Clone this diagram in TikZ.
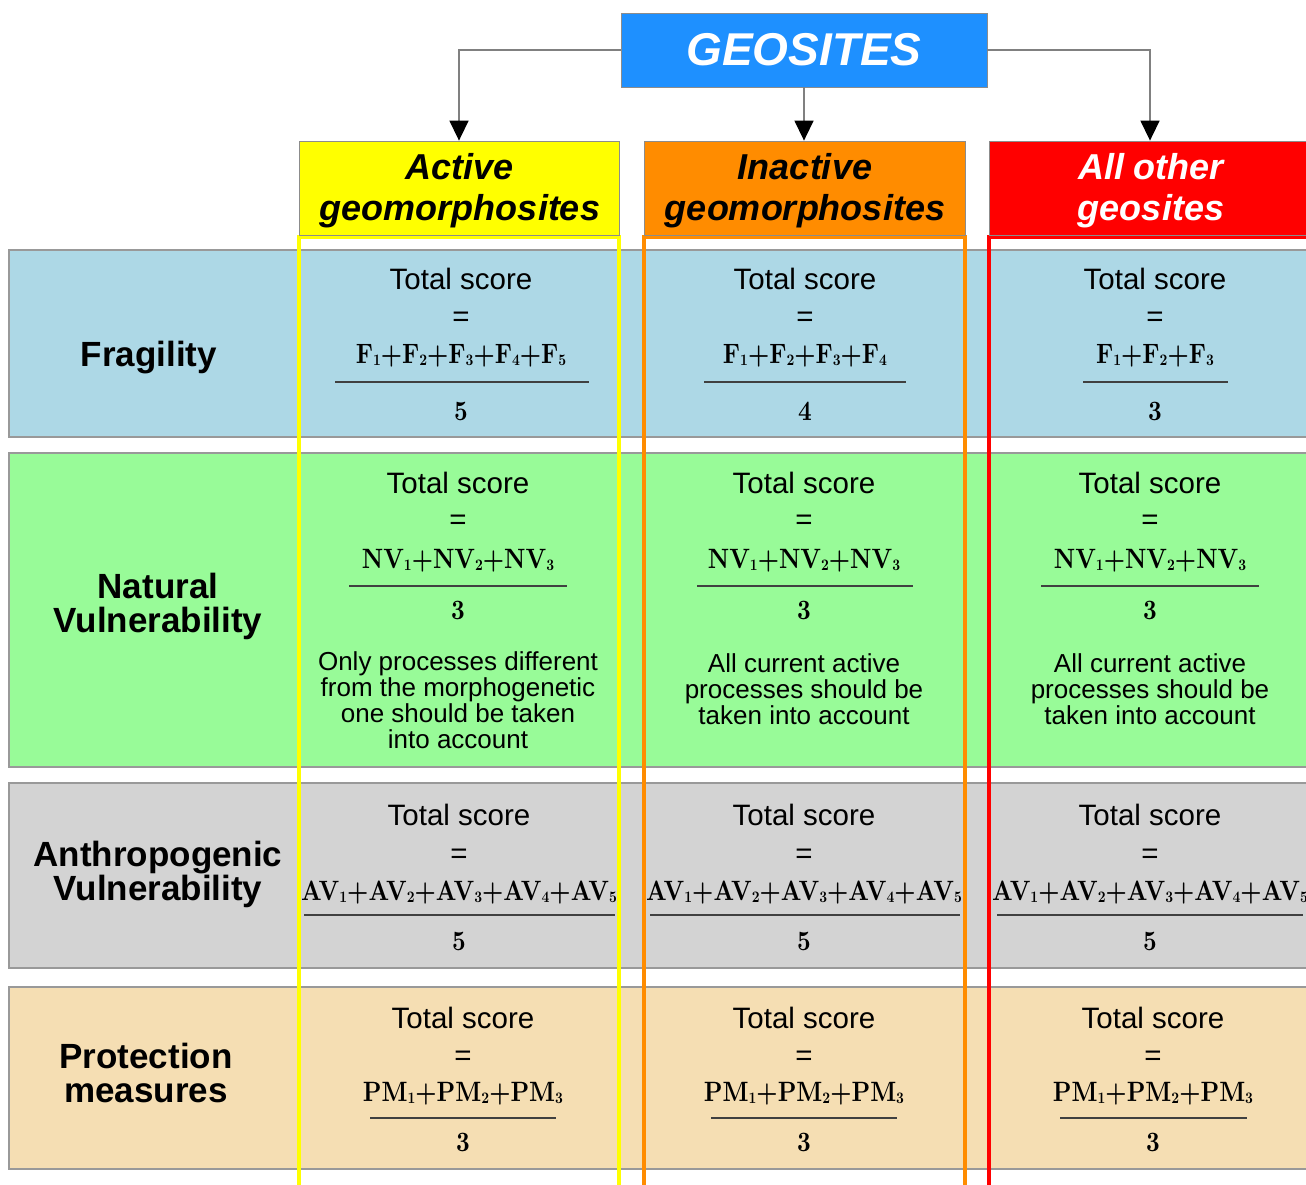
\documentclass[tikz,border=0pt]{standalone}
\usepackage{fontspec}
\usepackage{graphicx}
\usetikzlibrary{arrows.meta,calc}
\newfontfamily\sansf{Liberation Sans}
\newfontfamily\frmf{lmroman10-bold.otf}[FakeStretch=0.85]
\definecolor{geoblue}{HTML}{1E90FF}
\definecolor{hyellow}{HTML}{FFFF00}
\definecolor{horange}{HTML}{FF8C00}
\definecolor{hred}{HTML}{FF0000}
\definecolor{rblue}{HTML}{ADD8E6}
\definecolor{rgreen}{HTML}{98FB98}
\definecolor{rgray}{HTML}{D3D3D3}
\definecolor{rwheat}{HTML}{F5DEB3}
\definecolor{conngray}{HTML}{808080}
\newcommand\mysub[1]{\raisebox{-0.1em}{\fontsize{16}{16}\selectfont#1}}
\newcommand\myrow[5]{\def\yT{#1}\def\yE{#2}\def\yN{#3}\def\yR{#4}\def\yD{#5}}
\newcommand\mycell[6]{%
  \node[tot] (#1-t) at (#2,\yT) {Total score};
  \node[eqs] (#1-e) at (#2,\yE) {=};
  \node[frm] (#1-n) at (#2,\yN) {#5};
  \draw[fracrule] (#3,\yR) -- (#4,\yR);
  \node[frm] (#1-d) at (#2,\yD) {#6};
}
\begin{document}
\begin{tikzpicture}[x=1pt,y=-1pt,
  rowbox/.style={draw=black!40,line width=1.5pt},
  colline/.style={line width=3.4pt},
  hdr/.style={draw=black!45,line width=0.8pt,minimum height=94pt,inner sep=0pt},
  hdrtext/.style={inner sep=0pt,align=center,font=\fontsize{36}{41}\sansf\bfseries\itshape},
  conn/.style={draw=conngray,line width=1.5pt,-{Triangle[width=19pt,length=20pt,color=black]}},
  lab/.style={font=\fontsize{35}{34}\sansf\bfseries,align=center,inner sep=0pt},
  tot/.style={font=\fontsize{29.5}{30}\sansf,anchor=base,inner sep=0pt},
  eqs/.style={font=\fontsize{29.5}{30}\sansf,anchor=center,inner sep=0pt},
  frm/.style={font=\fontsize{28}{28}\frmf,anchor=base,inner sep=0pt},
  note/.style={font=\fontsize{26}{26}\sansf,align=center,anchor=north,inner sep=0pt},
  fracrule/.style={draw=black!75,line width=1.3pt}]
\useasboundingbox (0,0) rectangle (1306,1185);
\fill[white] (0,0) rectangle (1306,1185);
% rows
\path[rowbox,fill=rblue] (9,250) rectangle (1320,437);
\path[rowbox,fill=rgreen] (9,453) rectangle (1320,767);
\path[rowbox,fill=rgray] (9,783) rectangle (1320,968);
\path[rowbox,fill=rwheat] (9,987) rectangle (1320,1169);
% column outlines
\draw[colline,hyellow] (299,237) rectangle (619,1200);
\draw[colline,horange] (644,237) rectangle (965,1200);
\draw[colline,hred] (989,237) rectangle (1330,1200);
% top
\node[draw=black!45,line width=0.8pt,fill=geoblue,minimum width=366pt,minimum height=74pt,inner sep=0pt,
  font=\fontsize{46}{46}\sansf\bfseries\itshape,text=white] (geo) at (804,50) {GEOSITES};
\node[hdr,fill=hyellow,minimum width=320pt] (hA) at (459,188) {};
\node[hdr,fill=horange,minimum width=321pt] (hB) at (804.5,188) {};
\node[hdr,fill=hred,minimum width=322pt] (hC) at (1150,188) {};
\node[hdrtext] (hA-t) at (460,191) {Active\\geomorphosites};
\node[hdrtext] (hB-t) at (805,191) {Inactive\\geomorphosites};
\node[hdrtext,text=white] (hC-t) at (1151,191) {All other\\geosites};
\draw[conn] (geo.west) -| (hA.north);
\draw[conn] (geo.south) -- (geo.south |- hB.north);
\draw[conn] (geo.east) -| (hC.north);
% row labels
\node[lab,anchor=base] (lF) at (149,366) {Fragility};
\node[lab,anchor=north] (lNV) at (158,573) {Natural\\Vulnerability};
\node[lab,anchor=north] (lAV) at (158,841) {Anthropogenic\\Vulnerability};
\node[lab,anchor=north] (lPM) at (146,1043) {Protection\\measures};
% row 1
\myrow{289}{319}{363}{382}{420}
\mycell{fa}{461}{335}{589}{F\mysub1+F\mysub2+F\mysub3+F\mysub4+F\mysub5}{5}
\mycell{fb}{805}{704}{906}{F\mysub1+F\mysub2+F\mysub3+F\mysub4}{4}
\mycell{fc}{1155}{1083}{1228}{F\mysub1+F\mysub2+F\mysub3}{3}
% row 2
\myrow{493}{522}{568}{586}{619}
\mycell{na}{458}{349}{567}{NV\mysub1+NV\mysub2+NV\mysub3}{3}
\mycell{nb}{804}{697}{913}{NV\mysub1+NV\mysub2+NV\mysub3}{3}
\mycell{nc}{1150}{1041}{1259}{NV\mysub1+NV\mysub2+NV\mysub3}{3}
\node[note] (na-x) at (458,651) {Only processes different\\from the morphogenetic\\one should be taken\\into account};
\node[note] (nb-x) at (804,653) {All current active\\processes should be\\taken into account};
\node[note] (nc-x) at (1150,653) {All current active\\processes should be\\taken into account};
% row 3
\myrow{825}{856}{900}{915}{950}
\mycell{aa}{459}{304}{615}{AV\mysub1+AV\mysub2+AV\mysub3+AV\mysub4+AV\mysub5}{5}
\mycell{ab}{804}{650}{960}{AV\mysub1+AV\mysub2+AV\mysub3+AV\mysub4+AV\mysub5}{5}
\mycell{ac}{1150}{997}{1303}{AV\mysub1+AV\mysub2+AV\mysub3+AV\mysub4+AV\mysub5}{5}
% row 4
\myrow{1028}{1058}{1101}{1118}{1151}
\mycell{pa}{463}{370}{556}{PM\mysub1+PM\mysub2+PM\mysub3}{3}
\mycell{pb}{804}{711}{897}{PM\mysub1+PM\mysub2+PM\mysub3}{3}
\mycell{pc}{1153}{1060}{1247}{PM\mysub1+PM\mysub2+PM\mysub3}{3}
\end{tikzpicture}
\end{document}
